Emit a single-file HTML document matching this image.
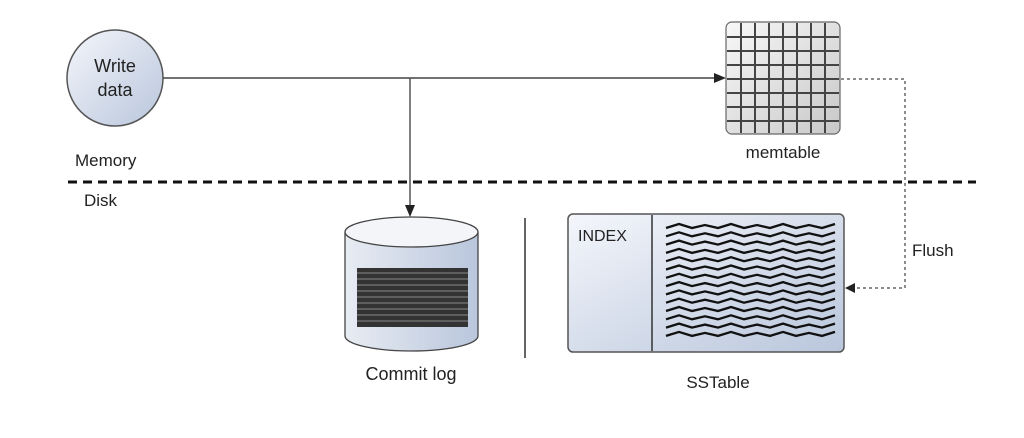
<!DOCTYPE html>
<html><head><style>body{margin:0;background:#fff}svg{display:block}text{font-family:"Liberation Sans",sans-serif;fill:#222}</style></head><body>
<svg width="1024" height="438" viewBox="0 0 1024 438" xmlns="http://www.w3.org/2000/svg">
<defs>
<linearGradient id="g1" x1="0" y1="0" x2="1" y2="1"><stop offset="0" stop-color="#f4f6fb"/><stop offset="1" stop-color="#b9c6dc"/></linearGradient>
<linearGradient id="g2" x1="0" y1="0" x2="1" y2="1"><stop offset="0" stop-color="#f8f8f8"/><stop offset="1" stop-color="#c8c8c8"/></linearGradient>
<linearGradient id="g3" x1="0" y1="0" x2="1" y2="0"><stop offset="0" stop-color="#e8ecf3"/><stop offset="1" stop-color="#b9c6dc"/></linearGradient>
</defs>
<circle cx="115" cy="78" r="48" fill="url(#g1)" stroke="#555" stroke-width="1.5"/>
<text x="115" y="72" font-size="18" text-anchor="middle" fill="#223">Write</text>
<text x="115" y="96" font-size="18" text-anchor="middle" fill="#223">data</text>
<line x1="163" y1="78" x2="716" y2="78" stroke="#444" stroke-width="1.5"/>
<polygon points="726,78 714,73 714,83" fill="#222"/>
<line x1="410" y1="78" x2="410" y2="207" stroke="#555" stroke-width="1.5"/>
<polygon points="410,217 405,205 415,205" fill="#222"/>
<text x="75" y="166" font-size="17">Memory</text>
<line x1="68" y1="182" x2="976" y2="182" stroke="#111" stroke-width="3" stroke-dasharray="9,6"/>
<text x="84" y="206" font-size="17">Disk</text>
<rect x="726" y="22" width="114" height="112" rx="6" fill="url(#g2)" stroke="#666" stroke-width="1.2"/>
<g stroke="#444" stroke-width="2">
<line x1="741" y1="23" x2="741" y2="133"/><line x1="755" y1="23" x2="755" y2="133"/><line x1="769" y1="23" x2="769" y2="133"/><line x1="783" y1="23" x2="783" y2="133"/><line x1="797" y1="23" x2="797" y2="133"/><line x1="811" y1="23" x2="811" y2="133"/><line x1="825" y1="23" x2="825" y2="133"/>
<line x1="727" y1="37" x2="839" y2="37"/><line x1="727" y1="51" x2="839" y2="51"/><line x1="727" y1="65" x2="839" y2="65"/><line x1="727" y1="79" x2="839" y2="79"/><line x1="727" y1="93" x2="839" y2="93"/><line x1="727" y1="107" x2="839" y2="107"/><line x1="727" y1="121" x2="839" y2="121"/>
</g>
<text x="783" y="158" font-size="17" text-anchor="middle">memtable</text>
<polyline points="841,79 905,79 905,288 852,288" fill="none" stroke="#666" stroke-width="1.5" stroke-dasharray="3,3"/>
<polygon points="845,288 855,283 855,293" fill="#222"/>
<text x="912" y="256" font-size="17">Flush</text>
<path d="M345,232 L345,336 A66.5,15 0 0 0 478,336 L478,232" fill="url(#g3)" stroke="#444" stroke-width="1.3"/>
<ellipse cx="411.5" cy="232" rx="66.5" ry="15" fill="#f3f5f9" stroke="#444" stroke-width="1.3"/>
<rect x="357" y="268" width="111" height="59" fill="#333"/>
<g stroke="#888" stroke-width="1">
<line x1="357" y1="273" x2="468" y2="273"/><line x1="357" y1="279" x2="468" y2="279"/><line x1="357" y1="285" x2="468" y2="285"/><line x1="357" y1="291" x2="468" y2="291"/><line x1="357" y1="297" x2="468" y2="297"/><line x1="357" y1="303" x2="468" y2="303"/><line x1="357" y1="309" x2="468" y2="309"/><line x1="357" y1="315" x2="468" y2="315"/><line x1="357" y1="321" x2="468" y2="321"/>
</g>
<text x="411" y="380" font-size="18" text-anchor="middle">Commit log</text>
<line x1="525" y1="218" x2="525" y2="358" stroke="#333" stroke-width="1.5"/>
<rect x="568" y="214" width="276" height="138" rx="5" fill="url(#g1)" stroke="#555" stroke-width="1.5"/>
<line x1="652" y1="215" x2="652" y2="351" stroke="#333" stroke-width="1.5"/>
<text x="578" y="241" font-size="16" fill="#334">INDEX</text>
<g fill="none" stroke="#111" stroke-width="2.3">
<path id="w" d="M666,228 l13,-4 13,4 13,-3 13,3 13,-4 13,4 13,-3 13,3 13,-4 13,4 13,-3 13,3 13,-4"/>
<use href="#w" y="8.3"/><use href="#w" y="16.6"/><use href="#w" y="24.9"/><use href="#w" y="33.2"/><use href="#w" y="41.5"/><use href="#w" y="49.8"/><use href="#w" y="58.1"/><use href="#w" y="66.4"/><use href="#w" y="74.7"/><use href="#w" y="83"/><use href="#w" y="91.3"/><use href="#w" y="99.6"/><use href="#w" y="107.9"/>
</g>
<text x="718" y="388" font-size="17" text-anchor="middle">SSTable</text>
</svg>
</body></html>
